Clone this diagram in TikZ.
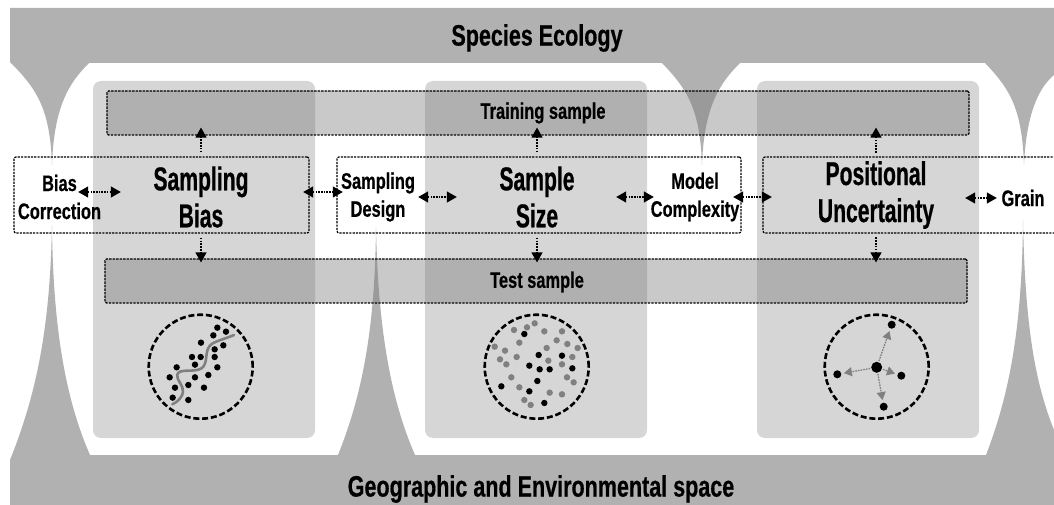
\documentclass[tikz,border=0pt]{standalone}
\usepackage{fontspec}
\usetikzlibrary{arrows.meta,calc}
\newfontfamily\condbig[FakeStretch=0.64,FakeBold=0.6]{Liberation Sans Bold}
\newfontfamily\condsmall[FakeStretch=0.73,FakeBold=0.5]{Liberation Sans Bold}
\definecolor{band}{HTML}{B1B1B1}
\definecolor{panelc}{HTML}{D6D6D6}
\definecolor{barc}{HTML}{797979}
\definecolor{riverc}{HTML}{808080}
\tikzset{
  panel/.style={fill=panelc,rounded corners=8pt},
  bar/.style={draw=black,fill=barc,fill opacity=0.40,line width=1.15pt,dash pattern=on 2.4pt off 1.1pt,rounded corners=1.5pt,inner sep=0,text opacity=1},
  groupbox/.style={draw=black,line width=1.2pt,dash pattern=on 2.2pt off 1.1pt,rounded corners=2pt},
  title/.style={font=\condbig\fontsize{33}{37}\selectfont,align=center,inner sep=0,text width=150pt},
  side/.style={font=\condsmall\fontsize{22.5}{28}\selectfont,align=center,inner sep=0,text width=100pt},
  head/.style={font=\condsmall\fontsize{29.5}{32}\selectfont,inner sep=0},
  barlabel/.style={font=\condsmall\fontsize{22.5}{25}\selectfont,inner sep=0},
  dbl/.style={{Triangle[length=10pt,width=11pt]}-{Triangle[length=10pt,width=11pt]},line width=1.2pt,dash pattern=on 1.5pt off 1.2pt},
  uni/.style={-{Triangle[length=10pt,width=11pt]},line width=1.3pt,dash pattern=on 1.7pt off 1.2pt},
  ring/.style={circle,draw=black,line width=2.6pt,dash pattern=on 6pt off 2.8pt,minimum size=104pt,inner sep=0},
  bdot/.style={circle,fill=black,minimum size=6.4pt,inner sep=0},
  gdot/.style={circle,fill=riverc,minimum size=6.4pt,inner sep=0},
  pdot/.style={circle,fill=black,minimum size=8pt,inner sep=0},
  cdot/.style={circle,fill=black,minimum size=11pt,inner sep=0},
  garrow/.style={-{Triangle[length=8pt,width=9pt]},draw=riverc,fill=riverc,line width=1.3pt,dash pattern=on 1.5pt off 1.2pt,shorten >=2.5pt,shorten <=1pt},
}
\begin{document}
\begin{tikzpicture}[x=1pt,y=-1pt]
\useasboundingbox (0,0) rectangle (1054,505);
% ecology band with spikes
\fill[band] (10,8) -- (1054,8) -- (1054,75) .. controls (1036,90) and (1026,120) .. (1024,165)
  .. controls (1022,110) and (1011,90) .. (985,63) -- (740,63)
  .. controls (721,82) and (704,105) .. (702,165)
  .. controls (700,110) and (688,90) .. (662,63) -- (89,63)
  .. controls (70,82) and (54,105) .. (52,165)
  .. controls (50,110) and (38,90) .. (10,62) -- cycle;
% space band with spikes
\fill[band] (10,505) -- (1054,505) -- (1054,430) .. controls (1036,385) and (1025,330) .. (1023,220)
  .. controls (1022,330) and (1009,395) .. (986,455) -- (415,455)
  .. controls (391,400) and (378,330) .. (376,227)
  .. controls (375,330) and (362,395) .. (338,455) -- (90,455)
  .. controls (66,400) and (53,330) .. (52,225)
  .. controls (50,330) and (36,395) .. (10,460) -- cycle;
% panels
\fill[panel] (93,81) rectangle (315,438);
\fill[panel] (425,81) rectangle (647,438);
\fill[panel] (757,81) rectangle (979,438);
% bars
\node[bar,minimum width=862pt,minimum height=44pt] (train) at (538,113) {};
\node[bar,minimum width=862pt,minimum height=44pt] (test) at (536,281) {};
\node[barlabel] (trainlbl) at (543,113) {Training sample};
\node[barlabel] (testlbl) at (537,282) {Test sample};
% group boxes
\node[groupbox,minimum width=295pt,minimum height=76pt] (boxA) at (161.5,195) {};
\node[groupbox,minimum width=404pt,minimum height=76pt] (boxB) at (539,195) {};
\draw[groupbox,rounded corners=2pt] (1056,157) -- (763,157) -- (763,233) -- (1056,233);
\coordinate (boxCtop) at (876,157);
\coordinate (boxCbot) at (876,233);
% headings
\node[head] (eco) at (537,38) {Species Ecology};
\node[head] (geo) at (541,489) {Geographic and Environmental space};
% titles
\node[title] (sb) at (201,197) {Sampling\\Bias};
\node[title] (ss) at (537,197) {Sample\\Size};
\node[title] (pu) at (876,195) {Positional\\Uncertainty};
% side labels
\node[side] (bc) at (59.5,197) {Bias\\Correction};
\node[side] (sd) at (378,197) {Sampling\\Design};
\node[side] (mc) at (695,197) {Model\\Complexity};
\node[side] (gr) at (1023,198) {Grain};
% horizontal connectors
\draw[dbl] ([shift={(-31.5pt,5pt)}]bc.east) -- ([shift={(-5pt,5pt)}]sb.west);
\draw[dbl] ([shift={(27pt,5pt)}]sb.east) -- ([shift={(15pt,5pt)}]sd.west);
\draw[dbl] ([shift={(-10pt,0pt)}]sd.east) -- ([shift={(-5pt,0pt)}]ss.west);
\draw[dbl] ([shift={(4pt,0pt)}]ss.east) -- ([shift={(9pt,0pt)}]mc.west);
\draw[dbl] ([shift={(-12pt,0pt)}]mc.east) -- ([shift={(-29pt,-2pt)}]pu.west);
\draw[dbl] ([shift={(14pt,-3pt)}]pu.east) -- ([shift={(24pt,0pt)}]gr.west);
% vertical connectors
\draw[uni] ([yshift=4pt]sb.center |- boxA.north) -- ([yshift=8pt]sb.center |- train.south);
\draw[uni] ([yshift=4pt]ss.center |- boxB.north) -- ([yshift=8pt]ss.center |- train.south);
\draw[uni] ([yshift=4pt]boxCtop) -- ([yshift=8pt]pu.center |- train.south);
\draw[uni] ([yshift=-4pt]sb.center |- boxA.south) -- ([yshift=-4pt]sb.center |- test.north);
\draw[uni] ([yshift=-4pt]ss.center |- boxB.south) -- ([yshift=-4pt]ss.center |- test.north);
\draw[uni] ([yshift=-4pt]boxCbot) -- ([yshift=-4pt]pu.center |- test.north);
% ring 1
\node[ring] (r1) at (200.7,366.7) {};
\begin{scope}[shift={(130,310)},x=0.3333pt,y=-0.3333pt]
\foreach \p [count=\i] in {(262,53),(288,65),(250,76),(213,98),(280,106),(254,118),(254,141),(186,141),(212,141),(195,164),(262,172),(140,172),(235,195),(195,202),(119,202),(175,225),(222,233),(135,233),(128,263),(175,270)}
  \node[bdot] (a\i) at \p {};
\draw[riverc,line width=2.6pt,line cap=round] (127,283) .. controls (150,272) and (165,250) .. (157,232)
  .. controls (150,215) and (130,195) .. (150,185) .. controls (170,178) and (205,188) .. (220,170)
  .. controls (235,150) and (222,120) .. (245,102) .. controls (260,92) and (290,85) .. (312,75);
\end{scope}
% ring 2
\node[ring] (r2) at (536.7,366.7) {};
\begin{scope}[shift={(470,310)},x=0.3333pt,y=-0.3333pt]
\foreach \p [count=\i] in {(194,40),(171,52),(132,60),(223,64),(276,64),(260,91),(292,102),(148,98),(74,110),(105,122),(230,114),(323,114),(140,141),(90,148),(109,163),(235,152),(276,163),(307,141),(124,202),(291,202),(311,217),(148,232),(239,248),(276,253),(163,270),(182,285)}
  \node[gdot] (g\i) at \p {};
\foreach \p [count=\i] in {(163,72),(206,135),(276,137),(178,167),(209,178),(239,178),(307,175),(202,213),(94,229),(178,244),(223,279)}
  \node[bdot] (b\i) at \p {};
\end{scope}
% ring 3
\node[ring] (r3) at (876.7,366.7) {};
\node[cdot] (c0) at (876.7,367.3) {};
\node[pdot] (c1) at (891.7,324.7) {};
\node[pdot] (c2) at (837.3,374.3) {};
\node[pdot] (c3) at (901.3,375.7) {};
\node[pdot] (c4) at (883.7,406.7) {};
\draw[garrow] (c0) -- (c1);
\draw[garrow] (c0) -- (c2);
\draw[garrow] (c0) -- (c3);
\draw[garrow] (c0) -- (c4);
\end{tikzpicture}
\end{document}
